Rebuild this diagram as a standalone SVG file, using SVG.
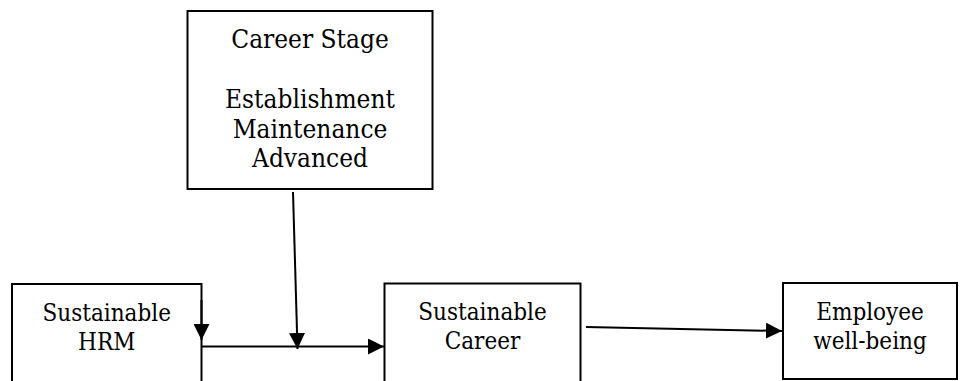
<svg xmlns="http://www.w3.org/2000/svg" width="963" height="381" viewBox="0 0 963 381">
  <defs>
    <marker id="arrow" markerUnits="userSpaceOnUse" markerWidth="16" markerHeight="16" refX="16" refY="8" orient="auto">
      <path d="M0,0 L16,8 L0,16 Z" fill="#000"/>
    </marker>
    <style>
      .box { fill: #fff; stroke: #000; stroke-width: 2; }
      .lbl { font-family: "DejaVu Serif Condensed", "DejaVu Serif", "Liberation Serif", serif; font-stretch: condensed; fill: #000; text-anchor: middle; }
      .big { font-size: 26px; }
      .small { font-size: 24px; }
      .conn { fill: none; stroke: #000; stroke-width: 2; marker-end: url(#arrow); }
    </style>
  </defs>
  <rect width="963" height="381" fill="#fff"/>

  <g id="career-stage">
    <rect class="box" x="187.5" y="11" width="245" height="178"/>
    <text class="lbl big" x="310" y="48">Career Stage</text>
    <text class="lbl big" x="310" y="108">Establishment</text>
    <text class="lbl big" x="310" y="138">Maintenance</text>
    <text class="lbl big" x="310" y="167">Advanced</text>
  </g>

  <g id="sustainable-hrm">
    <rect class="box" x="12" y="284" width="189.5" height="110"/>
    <text class="lbl small" x="106.7" y="321">Sustainable</text>
    <text class="lbl small" x="106.7" y="350">HRM</text>
  </g>

  <g id="sustainable-career">
    <rect class="box" x="384.5" y="283.5" width="196" height="110"/>
    <text class="lbl small" x="482.5" y="320">Sustainable</text>
    <text class="lbl small" x="482.5" y="349">Career</text>
  </g>

  <g id="employee-wellbeing">
    <rect class="box" x="783" y="283" width="174" height="96"/>
    <text class="lbl small" x="870" y="320">Employee</text>
    <text class="lbl small" x="870" y="349">well-being</text>
  </g>

  <g id="connectors">
    <path class="conn" d="M201.5,300 L201.5,340"/>
    <path class="conn" d="M201.5,346.5 L384,346.5"/>
    <path class="conn" d="M293,192 L297.5,349"/>
    <path class="conn" d="M586,327 L782,331"/>
  </g>
</svg>
